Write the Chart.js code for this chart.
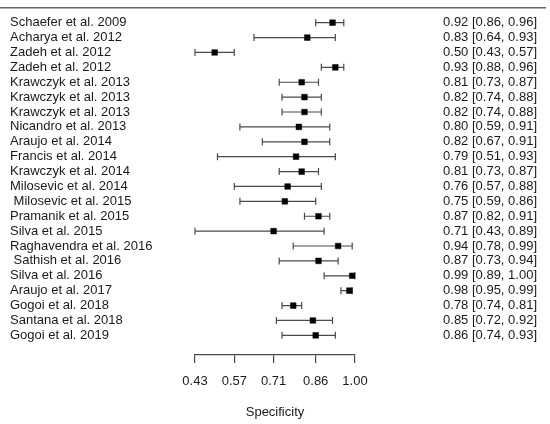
<!DOCTYPE html>
<html>
<head>
<meta charset="utf-8">
<script src="https://cdn.jsdelivr.net/npm/chart.js@4/dist/chart.umd.min.js"></script>
<style>
  html, body { margin: 0; padding: 0; background: #fff; }
  canvas { display: block; }
</style>
</head>
<body>
<canvas id="forest" width="550" height="424"></canvas>
<script>
/* forest plot: specificity per study with 95% CI */
const STUDIES = [
  "Schaefer et al. 2009", "Acharya et al. 2012", "Zadeh et al. 2012", "Zadeh et al. 2012",
  "Krawczyk et al. 2013", "Krawczyk et al. 2013", "Krawczyk et al. 2013", "Nicandro et al. 2013",
  "Araujo et al. 2014", "Francis et al. 2014", "Krawczyk et al. 2014", "Milosevic et al. 2014",
  " Milosevic et al. 2015", "Pramanik et al. 2015", "Silva et al. 2015", "Raghavendra et al. 2016",
  " Sathish et al. 2016", "Silva et al. 2016", "Araujo et al. 2017", "Gogoi et al. 2018",
  "Santana et al. 2018", "Gogoi et al. 2019"
];
const SPEC  = [0.92, 0.83, 0.50, 0.93, 0.81, 0.82, 0.82, 0.80, 0.82, 0.79, 0.81, 0.76, 0.75, 0.87, 0.71, 0.94, 0.87, 0.99, 0.98, 0.78, 0.85, 0.86];
const LOWER = [0.86, 0.64, 0.43, 0.88, 0.73, 0.74, 0.74, 0.59, 0.67, 0.51, 0.73, 0.57, 0.59, 0.82, 0.43, 0.78, 0.73, 0.89, 0.95, 0.74, 0.72, 0.74];
const UPPER = [0.96, 0.93, 0.57, 0.96, 0.87, 0.88, 0.88, 0.91, 0.91, 0.93, 0.87, 0.88, 0.86, 0.91, 0.89, 0.99, 0.94, 1.00, 0.99, 0.81, 0.92, 0.93];
const X_TICKS = [0.43, 0.57, 0.71, 0.86, 1.00];
const X_TITLE = "Specificity";

const FONT = { family: "'Liberation Sans', Arial, sans-serif", size: 13 };
const TEXT = "#1a1a1a";
const LINE = "#4a4a4a";

const fmt = v => v.toFixed(2);
const ciText = i => `${fmt(SPEC[i])} [${fmt(LOWER[i])}, ${fmt(UPPER[i])}]`;
const rowTicks = axis => { axis.ticks = STUDIES.map((_, i) => ({ value: i })); };

/* whiskers + caps, drawn under the squares */
const ciPlugin = {
  id: "ciBars",
  beforeDatasetsDraw(chart) {
    const { ctx, scales: { x, y } } = chart;
    ctx.save();
    ctx.strokeStyle = LINE;
    ctx.lineWidth = 1.2;
    STUDIES.forEach((_, i) => {
      const py = y.getPixelForValue(i);
      const x0 = x.getPixelForValue(LOWER[i]);
      const x1 = x.getPixelForValue(UPPER[i]);
      ctx.beginPath();
      ctx.moveTo(x0, py); ctx.lineTo(x1, py);
      ctx.moveTo(x0, py - 3.5); ctx.lineTo(x0, py + 3.5);
      ctx.moveTo(x1, py - 3.5); ctx.lineTo(x1, py + 3.5);
      ctx.stroke();
    });
    ctx.restore();
  },
  afterDraw(chart) {
    /* header rule across the top */
    const { ctx, chartArea } = chart;
    ctx.save();
    ctx.strokeStyle = "#666";
    ctx.lineWidth = 1.5;
    ctx.beginPath();
    ctx.moveTo(0, chartArea.top);
    ctx.lineTo(546, chartArea.top);
    ctx.stroke();
    ctx.restore();
  }
};

new Chart(document.getElementById("forest"), {
  type: "scatter",
  data: {
    datasets: [{
      data: SPEC.map((v, i) => ({ x: v, y: i })),
      pointStyle: "rect",
      pointRadius: 4,
      borderWidth: 0.5,
      backgroundColor: "#000",
      borderColor: "#000"
    }]
  },
  options: {
    responsive: false,
    animation: false,
    layout: { padding: { left: 10, right: 13, top: 4, bottom: 0 } },
    plugins: { legend: { display: false }, tooltip: { enabled: false } },
    scales: {
      x: {
        type: "linear",
        min: 0.43,
        max: 1.00,
        afterBuildTicks: axis => { axis.ticks = X_TICKS.map(v => ({ value: v })); },
        afterFit: axis => { axis.height = 69; },
        border: { display: true, color: LINE, width: 1.2 },
        grid: { drawOnChartArea: false, drawTicks: true, tickLength: 8, color: LINE, lineWidth: 1.2 },
        ticks: { color: TEXT, font: FONT, padding: 11, autoSkip: false, maxRotation: 0, callback: v => fmt(v) },
        title: { display: true, text: X_TITLE, color: TEXT, font: FONT, padding: { top: 4, bottom: 4 } }
      },
      y: {
        type: "linear",
        position: "left",
        reverse: true,
        min: -1,
        max: 22.32,
        afterBuildTicks: rowTicks,
        afterFit: axis => { axis.width = 185; },
        border: { display: false },
        grid: { display: false, drawTicks: false },
        ticks: { color: TEXT, font: FONT, crossAlign: "far", autoSkip: false, padding: 0, callback: v => STUDIES[v] }
      },
      ci: {
        type: "linear",
        position: "right",
        reverse: true,
        min: -1,
        max: 22.32,
        afterBuildTicks: rowTicks,
        afterFit: axis => { axis.width = 182; },
        border: { display: false },
        grid: { display: false, drawTicks: false },
        ticks: { color: TEXT, font: FONT, crossAlign: "far", autoSkip: false, padding: 0, callback: v => ciText(v) }
      }
    }
  },
  plugins: [ciPlugin]
});
</script>
</body>
</html>
